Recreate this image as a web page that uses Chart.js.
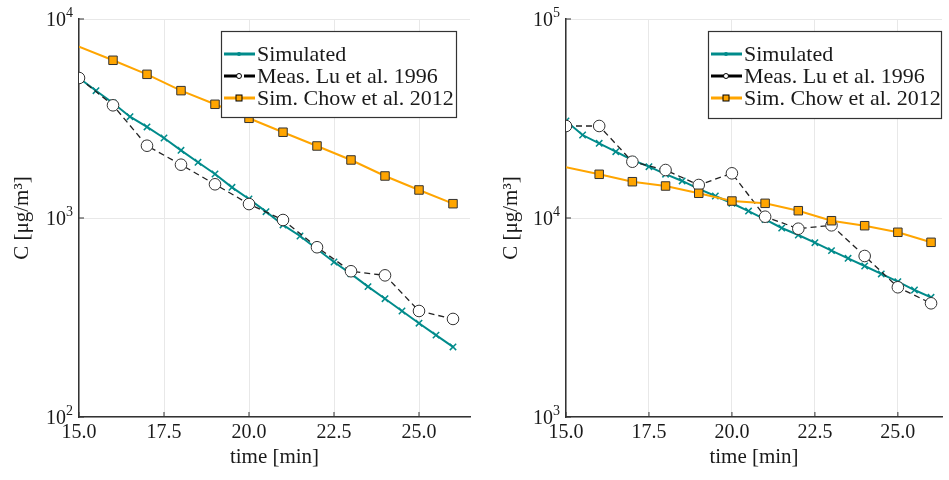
<!DOCTYPE html>
<html>
<head>
<meta charset="utf-8">
<script src="https://cdn.jsdelivr.net/npm/chart.js@4.4.1/dist/chart.umd.min.js"></script>
<style>
  body { margin: 0; background: #fff; }
  .panel { position: absolute; top: 0; height: 480px; }
</style>
</head>
<body>
<div class="panel" style="left:0;width:480px"><canvas id="leftChart" width="480" height="480"></canvas></div>
<div class="panel" style="left:480px;width:469px"><canvas id="rightChart" width="469" height="480"></canvas></div>
<script>
// time axes
const tSim = [15, 15.5, 16, 16.5, 17, 17.5, 18, 18.5, 19, 19.5, 20, 20.5, 21, 21.5, 22, 22.5, 23, 23.5, 24, 24.5, 25, 25.5, 26];
const tMeas = [15, 16, 17, 18, 19, 20, 21, 22, 23, 24, 25, 26];
const xTicks = [15, 17.5, 20, 22.5, 25];

// left panel
const simLeft = [5050, 4362, 3784, 3228, 2867, 2523, 2188, 1905, 1664, 1426, 1246, 1076, 923, 812, 698, 601, 524, 452, 393, 341, 296, 258, 225];
const measLeft = [5053, 3684, 2308, 1853, 1477, 1175, 977, 713, 540, 515, 341, 311];
const chowLeft = [7261, 6202, 5272, 4365, 3727, 3170, 2698, 2301, 1957, 1626, 1383, 1180];
const yTicksLeft = [100, 1000, 10000];

// right panel
const simRight = [30730, 26120, 23730, 21540, 19560, 18110, 16600, 15350, 14000, 12900, 11860, 10840, 9830, 8910, 8215, 7516, 6855, 6274, 5740, 5233, 4786, 4346, 3995];
const measRight = [28990, 29000, 19180, 17420, 14650, 16770, 10150, 8834, 9190, 6442, 4487, 3727];
const chowRight = [17980, 16580, 15220, 14480, 13310, 12170, 11850, 10880, 9690, 9148, 8477, 7548];
const yTicksRight = [1000, 10000, 100000];

const labels = ['Simulated', 'Meas. Lu et al. 1996', 'Sim. Chow et al. 2012'];

const TEAL = '#008b8b';
const ORANGE = '#ffa500';
const DARK = '#333333';
const SERIF = "'Liberation Serif', 'DejaVu Serif', serif";

function pts(xs, ys) {
  return xs.map((x, i) => ({ x: x, y: ys[i] }));
}

// y tick labels as 10 + superscript exponent, plus inward tick marks
const axisDecor = {
  id: 'axisDecor',
  afterDraw(chart) {
    const ctx = chart.ctx;
    const xs = chart.scales.x, ys = chart.scales.y;
    const ax = ys.right, ay = xs.top;
    ctx.save();
    ctx.strokeStyle = DARK;
    ctx.lineWidth = 1;
    ys.ticks.forEach(t => {
      const py = ys.getPixelForValue(t.value);
      ctx.beginPath(); ctx.moveTo(ax, py); ctx.lineTo(ax + 5, py); ctx.stroke();
      const exp = String(Math.round(Math.log10(t.value)));
      ctx.fillStyle = '#1a1a1a';
      ctx.textBaseline = 'middle';
      ctx.textAlign = 'left';
      ctx.font = '14px ' + SERIF;
      const we = ctx.measureText(exp).width;
      ctx.font = '20px ' + SERIF;
      const wb = ctx.measureText('10').width;
      const xe = ax - 6 - we;
      ctx.fillText('10', xe - wb, py + 2);
      ctx.font = '14px ' + SERIF;
      ctx.fillText(exp, xe, py - 6);
    });
    xs.ticks.forEach(t => {
      const px = xs.getPixelForValue(t.value);
      ctx.beginPath(); ctx.moveTo(px, ay); ctx.lineTo(px, ay - 5); ctx.stroke();
    });
    ctx.restore();
  }
};

// legend box drawn inside the plot
const boxLegend = {
  id: 'boxLegend',
  afterDraw(chart, args, opts) {
    const ctx = chart.ctx;
    const b = opts.box;
    ctx.save();
    ctx.fillStyle = '#fff';
    ctx.fillRect(b.x, b.y, b.w, b.h);
    ctx.strokeStyle = DARK;
    ctx.lineWidth = 1.2;
    ctx.strokeRect(b.x + 0.5, b.y + 0.5, b.w, b.h);
    const x0 = b.x + 3, x1 = b.x + 34, xm = b.x + 18;
    chart.data.datasets.forEach((ds, i) => {
      const y = b.y + 23 + i * 22;
      ctx.strokeStyle = ds.legendColor;
      ctx.lineWidth = 3;
      ctx.setLineDash(i === 1 && opts.dashed ? [13, 7] : []);
      ctx.beginPath(); ctx.moveTo(x0, y); ctx.lineTo(x1, y); ctx.stroke();
      ctx.setLineDash([]);
      ctx.lineWidth = 1;
      if (i === 0) {
        ctx.fillStyle = TEAL;
        ctx.beginPath(); ctx.arc(xm, y, 2, 0, Math.PI * 2); ctx.fill();
      } else if (i === 1) {
        ctx.fillStyle = '#fff'; ctx.strokeStyle = '#000';
        ctx.beginPath(); ctx.arc(xm, y, 2.5, 0, Math.PI * 2); ctx.fill(); ctx.stroke();
      } else {
        ctx.fillStyle = ORANGE; ctx.strokeStyle = '#000';
        ctx.fillRect(xm - 3, y - 3, 6, 6); ctx.strokeRect(xm - 3, y - 3, 6, 6);
      }
      ctx.fillStyle = '#1a1a1a';
      ctx.font = '22px ' + SERIF;
      ctx.textAlign = 'left';
      ctx.textBaseline = 'middle';
      ctx.fillText(ds.label, b.x + 36, y + 1);
    });
    ctx.restore();
  }
};

function makeChart(id, sim, meas, chow, yTicks, cfg) {
  const ctx = document.getElementById(id).getContext('2d');
  return new Chart(ctx, {
    type: 'line',
    data: {
      datasets: [{
        label: labels[0],
        data: pts(tSim, sim),
        borderColor: TEAL,
        legendColor: TEAL,
        borderWidth: 2,
        pointStyle: 'crossRot',
        pointRadius: 4.5,
        pointBorderWidth: 1.5,
        pointBorderColor: TEAL,
        order: 3
      }, {
        label: labels[1],
        data: pts(tMeas, meas),
        borderColor: '#222',
        legendColor: '#000',
        borderWidth: 1.3,
        borderDash: [6, 4],
        pointStyle: 'circle',
        pointRadius: 5.8,
        pointBackgroundColor: '#fff',
        pointBorderColor: DARK,
        pointBorderWidth: 1,
        order: 2
      }, {
        label: labels[2],
        data: pts(tMeas, chow),
        borderColor: ORANGE,
        legendColor: ORANGE,
        borderWidth: 2,
        pointStyle: 'rect',
        pointRadius: chow.map((v, i) => i === 0 ? 0 : 6),
        pointBackgroundColor: ORANGE,
        pointBorderColor: DARK,
        pointBorderWidth: 1,
        order: 1
      }]
    },
    options: {
      responsive: false,
      devicePixelRatio: 1,
      animation: false,
      layout: { padding: { top: 19, right: cfg.padRight, left: 0, bottom: 0 } },
      plugins: {
        legend: { display: false },
        tooltip: { enabled: false },
        boxLegend: { box: cfg.legendBox, dashed: cfg.dashedLegend }
      },
      scales: {
        x: {
          type: 'linear',
          min: 15,
          max: cfg.xMax,
          afterBuildTicks: s => { s.ticks = xTicks.map(v => ({ value: v })); },
          afterFit: s => { s.height = 63; },
          ticks: {
            font: { family: SERIF, size: 20 },
            color: '#1a1a1a',
            padding: 4,
            maxRotation: 0,
            callback: v => v.toFixed(1)
          },
          grid: { color: '#e8e8e8', lineWidth: 1, drawTicks: false },
          border: { color: DARK, width: 1.5 },
          title: {
            display: true,
            text: 'time [min]',
            font: { family: SERIF, size: 21 },
            color: '#1a1a1a',
            padding: { top: 0, bottom: 10 }
          }
        },
        y: {
          type: 'logarithmic',
          min: yTicks[0],
          max: yTicks[yTicks.length - 1],
          afterBuildTicks: s => { s.ticks = yTicks.map(v => ({ value: v })); },
          afterFit: s => { s.width = cfg.yWidth; },
          ticks: { display: false },
          grid: { color: '#e8e8e8', lineWidth: 1, drawTicks: false },
          border: { color: DARK, width: 1.5 },
          title: {
            display: true,
            text: 'C [μg/m³]',
            font: { family: SERIF, size: 21 },
            color: '#1a1a1a',
            padding: { top: cfg.titlePad, bottom: 0 }
          }
        }
      }
    },
    plugins: [axisDecor, boxLegend]
  });
}

makeChart('leftChart', simLeft, measLeft, chowLeft, yTicksLeft, {
  xMax: 26.5, padRight: 10, yWidth: 79, titlePad: 10,
  legendBox: { x: 221, y: 31, w: 235, h: 86 }, dashedLegend: true
});

makeChart('rightChart', simRight, measRight, chowRight, yTicksRight, {
  xMax: 26.33, padRight: 0, yWidth: 86, titlePad: 19,
  legendBox: { x: 228, y: 31, w: 233, h: 87 }, dashedLegend: false
});
</script>
</body>
</html>
